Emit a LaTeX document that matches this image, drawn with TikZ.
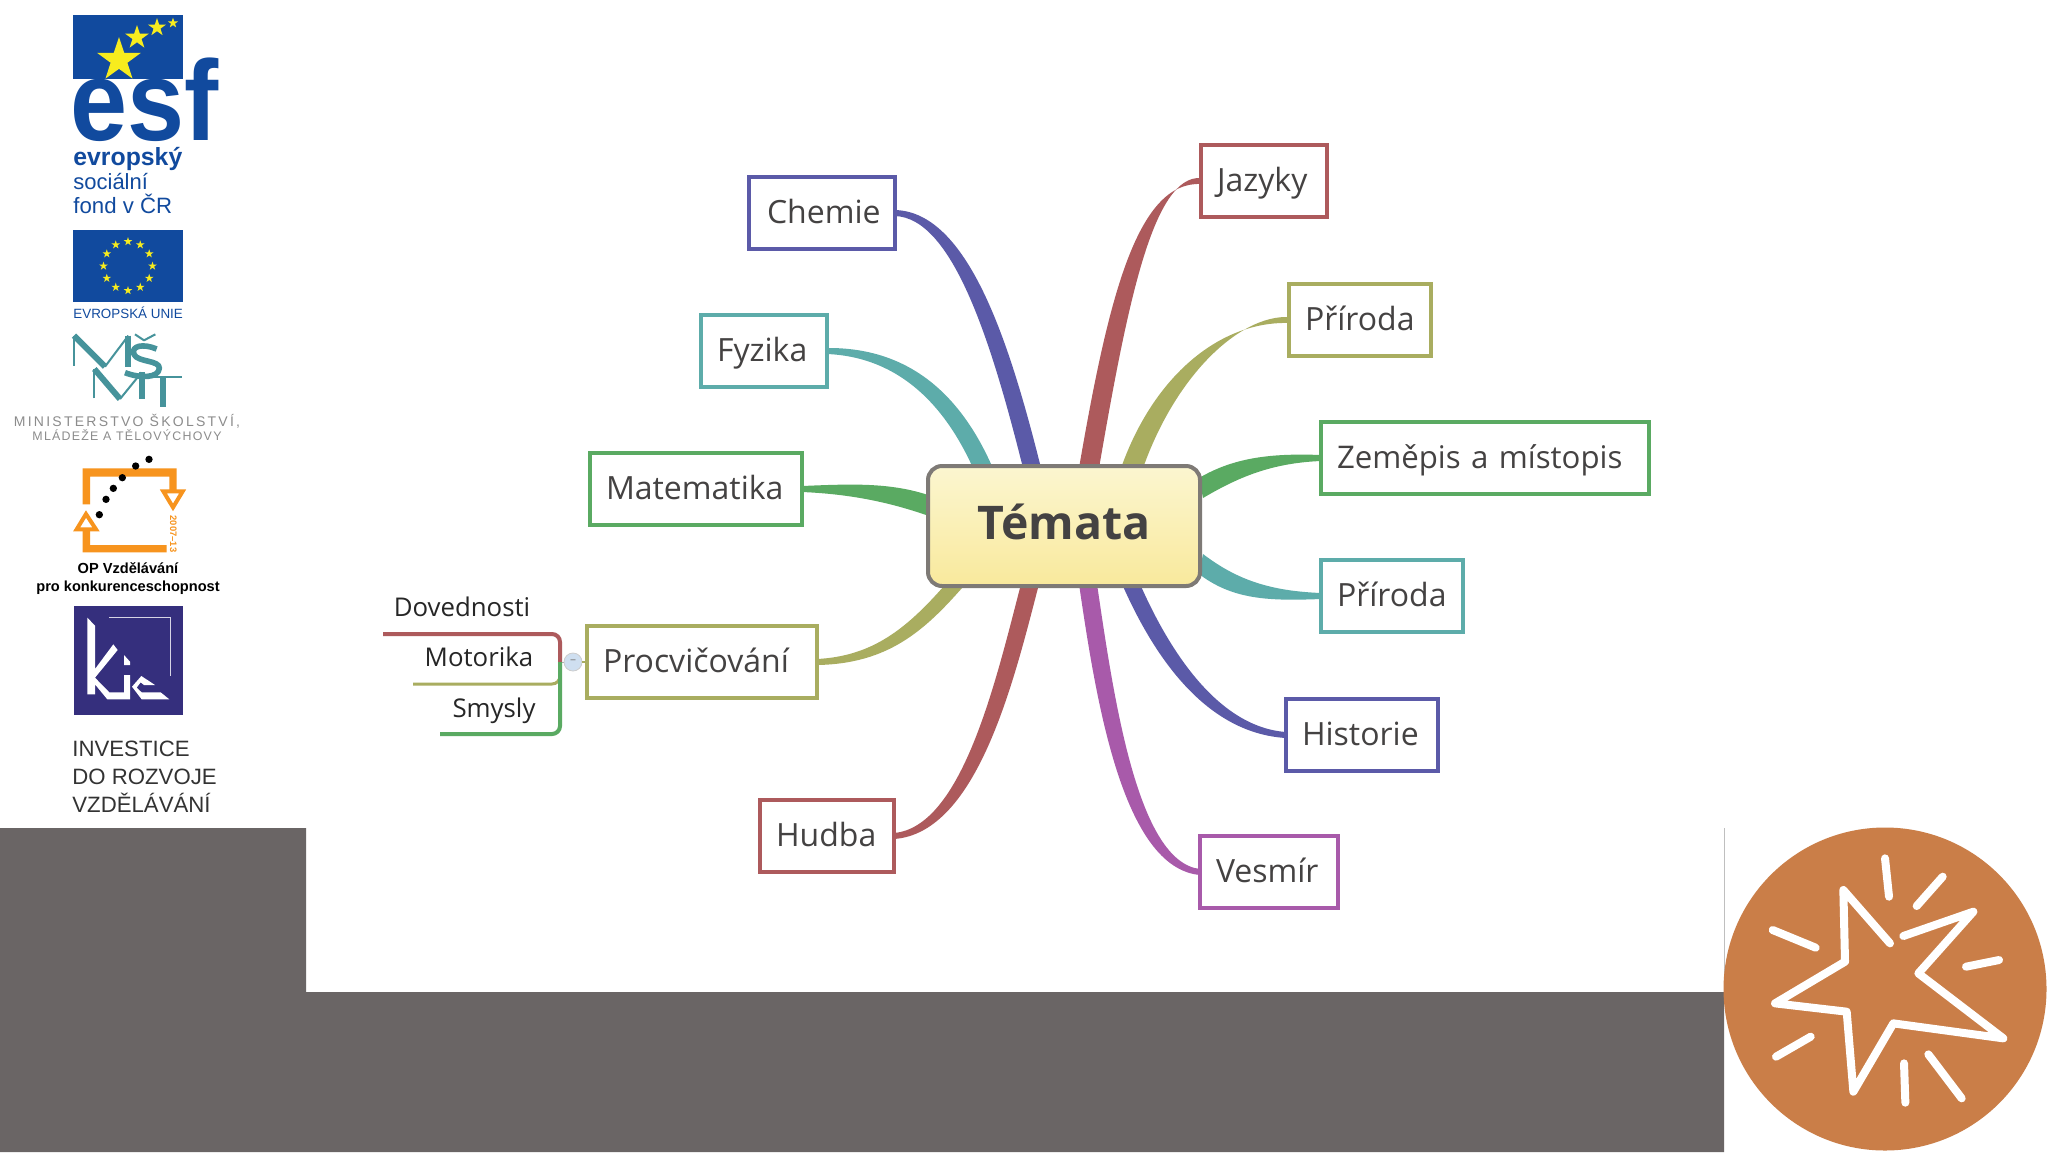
\documentclass[tikz,border=0pt]{standalone}
\usepackage{fontspec}
\usetikzlibrary{calc,shapes.geometric}
\setmainfont{Open Sans}
\newfontfamily\lib{Liberation Sans}
\newfontfamily\libA[LetterSpace=16]{Liberation Sans}
\newfontfamily\libB[LetterSpace=10]{Liberation Sans}
\pgfdeclarelayer{bg}
\pgfsetlayers{bg,main}
\definecolor{cblue}{HTML}{5B5AA8}
\definecolor{cteal}{HTML}{5DACAA}
\definecolor{cgreen}{HTML}{5AAA62}
\definecolor{colive}{HTML}{A9AD60}
\definecolor{cred}{HTML}{AD5A5C}
\definecolor{cviolet}{HTML}{A85AAA}
\definecolor{cgrey}{HTML}{6A6565}
\definecolor{ctext}{HTML}{444242}
\definecolor{esfblue}{HTML}{114A9E}
\definecolor{euyellow}{HTML}{F7EC1E}
\definecolor{msmt}{HTML}{46939B}
\definecolor{oporange}{HTML}{F7941E}
\definecolor{kic}{HTML}{352F7D}
\definecolor{badge}{HTML}{CA7E48}
\definecolor{ctop}{HTML}{FBF6D0}
\definecolor{cbot}{HTML}{F9E99C}
\definecolor{cborder}{HTML}{7E7A76}
\definecolor{cdot}{HTML}{CFDFF0}
\tikzset{
  topic/.style={draw=#1,line width=1.75pt,fill=white,minimum height=36pt,inner xsep=8pt,inner ysep=0pt,outer sep=0pt,align=left,text=ctext,text height=13.5pt,text depth=3pt,font=\fontsize{16}{18}\selectfont},
  sub/.style={text=black!85,inner sep=0pt,font=\fontsize{12.9}{14}\selectfont},
  ray/.style={white,line width=4pt,line cap=round,line join=round},
  twig/.style={line width=1.5pt,rounded corners=4pt},
  starA/.style={star,star points=5,star point ratio=2.6,fill=euyellow,inner sep=0pt,minimum size=#1},
  logotxt/.style={anchor=base west,inner sep=0pt},
  logomid/.style={anchor=base,inner sep=0pt},
}
\newcommand\branch[7][0.85]{\fill[#2] ($(#3)+(0,-3)$) .. controls ($(#4)+(0,-3)+#1*(#7)$) and ($(#5)+(#7)$) .. ($(#6)+(#7)$) -- ($(#6)-(#7)$) .. controls ($(#5)-(#7)$) and ($(#4)+(0,3)-#1*(#7)$) .. ($(#3)+(0,3)$) -- cycle;}
\begin{document}
\begin{tikzpicture}[x=0.5pt,y=-0.5pt]
\useasboundingbox (0,0) rectangle (2048,1152);
\begin{pgfonlayer}{bg}
\fill[white] (0,0) rectangle (2048,1152);
\end{pgfonlayer}
% grey bands
\fill[cgrey] (0,828) -- (306,828) -- (306,992) -- (1724,992) -- (1724,1152) -- (0,1152) -- cycle;
\draw[black!25,line width=0.5pt] (1724,828) -- (1724,992);
% badge
\fill[badge] (1885,989) circle (161.5);
\begin{scope}[shift={(1700,810)},x=0.16667pt,y=-0.16667pt]
\draw[ray] (570,400) -- (430,240) -- (435,455) -- (225,580) -- (440,605) -- (460,845) -- (580,640) -- (910,685) -- (655,490) -- (820,305) -- (610,378);
\draw[ray] (555,145) -- (567,260);
\draw[ray] (728,200) -- (650,288);
\draw[ray] (218,360) -- (347,413);
\draw[ray] (897,450) -- (798,470);
\draw[ray] (332,680) -- (228,740);
\draw[ray] (612,760) -- (616,878);
\draw[ray] (685,733) -- (785,865);
\end{scope}
% ESF logo
\fill[esfblue] (73,15) rectangle (183,79);
\node[starA=46*0.5pt] (s1) at (119,60) {};
\node[starA=25*0.5pt] (s2) at (137,37.5) {};
\node[starA=19*0.5pt] (s3) at (157,27.5) {};
\node[starA=11*0.5pt] (s4) at (173,23) {};
\node[logotxt,text=esfblue,xscale=0.9,text height=30pt,text depth=0pt,font=\lib\bfseries\fontsize{57}{60}\selectfont] (esf) at (70,140) {esf};
\node[logotxt,text=esfblue,font=\lib\bfseries\fontsize{12.4}{14}\selectfont] (t1) at (73,165) {evropský};
\node[logotxt,text=esfblue,font=\lib\fontsize{11}{13}\selectfont] (t2) at (73,189) {sociální};
\node[logotxt,text=esfblue,font=\lib\fontsize{11.1}{13}\selectfont] (t3) at (73,213) {fond v ČR};
% EU flag
\fill[esfblue] (73,230) rectangle (183,302);
\foreach \a in {0,30,...,330}{\node[starA=9*0.5pt] (eu\a) at ($(128,266)+(\a:24.5)$) {};}
\node[logotxt,text=esfblue,font=\lib\fontsize{6.7}{8}\selectfont] (t4) at (73,318) {EVROPSKÁ UNIE};
% MSMT logo
\begin{scope}[shift={(60,325)},x=0.16667pt,y=-0.16667pt]
\begin{scope}[msmt,line join=bevel]
\draw[line width=1pt] (42,122) -- (42,32);
\draw[line width=3pt] (42,32) -- (135,125);
\draw[line width=1pt] (135,125) -- (205,32);
\draw[line width=3pt] (205,32) -- (205,125);
\draw[line width=1pt] (225,28) -- (252,46) -- (286,28);
\draw[line width=2.8pt] (290,72) .. controls (250,55) and (212,62) .. (222,88) .. controls (232,112) and (300,105) .. (298,130) .. controls (295,160) and (240,160) .. (195,143);
\draw[line width=1pt] (103,220) -- (103,132);
\draw[line width=3pt] (103,132) -- (180,222);
\draw[line width=1pt] (180,222) -- (245,142);
\draw[line width=3pt] (245,142) -- (245,222);
\draw[line width=1pt] (230,157) -- (365,157);
\draw[line width=3pt] (310,157) -- (310,246);
\end{scope}
\end{scope}
\node[logomid,text=black!45,font=\libA\fontsize{7}{8}\selectfont] (t5) at (127,426) {MINISTERSTVO ŠKOLSTVÍ,};
\node[logomid,text=black!45,font=\libB\fontsize{6.2}{7}\selectfont] (t6) at (127,440) {MLÁDEŽE A TĚLOVÝCHOVY};
% OP logo
\begin{scope}[shift={(0,320)},x=0.16667pt,y=-0.16667pt]
\fill[oporange] (248,553) -- (248,445) -- (530,445) -- (530,512) -- (508,512) -- (508,470) -- (270,470) -- (270,553) -- cycle;
\fill[oporange] (248,630) -- (270,630) -- (270,675) -- (500,675) -- (500,697) -- (248,697) -- cycle;
\draw[oporange,line width=2pt,fill=white] (490,514) -- (548,514) -- (519,562) -- cycle;
\draw[oporange,line width=2pt,fill=white] (258,582) -- (230,628) -- (288,628) -- cycle;
\foreach \x/\y in {447/418,407/438,367/473,340/505,318/538,298/584}{\fill[black] (\x,\y) circle (11);}
\node[text=oporange,rotate=-90,inner sep=0pt,font=\lib\bfseries\fontsize{4.7}{5}\selectfont] (t7) at (520,642) {2007–13};
\end{scope}
\node[logomid,font=\lib\bfseries\fontsize{7.3}{8}\selectfont] (t8) at (128,573) {OP Vzdělávání};
\node[logomid,font=\lib\bfseries\fontsize{7.3}{8}\selectfont] (t9) at (128,591) {pro konkurenceschopnost};
% KIC logo
\begin{scope}[shift={(70,605)},x=0.16667pt,y=-0.16667pt]
\fill[kic] (13,3) rectangle (339,331);
\fill[white] (52,38) -- (75,62) -- (75,192) -- (130,118) -- (143,135) -- (75,218) -- (118,262) -- (162,262) -- (162,210) -- (180,210) -- (180,283) -- (112,283) -- (75,238) -- (75,268) -- (52,268) -- cycle;
\fill[white] (162,150) -- (180,170) -- (180,180) -- (162,180) -- cycle;
\fill[white] (186,245) -- (214,213) -- (255,240) -- (222,240) -- (212,232) -- (200,248) -- (215,262) -- (272,262) -- (298,283) -- (215,283) -- cycle;
\draw[white!80!kic,line width=0.4pt] (118,36) -- (302,36) -- (302,212);
\end{scope}
\node[logotxt,text=black!80,font=\lib\fontsize{11.1}{12}\selectfont] (t10) at (72,756) {INVESTICE};
\node[logotxt,text=black!80,font=\lib\fontsize{11.1}{12}\selectfont] (t11) at (72,784) {DO ROZVOJE};
\node[logotxt,text=black!80,font=\lib\fontsize{11.1}{12}\selectfont] (t12) at (72,812) {VZDĚLÁVÁNÍ};
% centre
\node[rounded corners=7pt,draw=cborder,line width=2pt,top color=ctop,bottom color=cbot,minimum width=136pt,minimum height=60pt,inner sep=0pt,outer sep=0pt,text=ctext,text depth=4pt,font=\bfseries\fontsize{23.2}{28}\selectfont] (temata) at (1064,526) {Témata};
% topics
\node[topic=cblue,text width=55pt,inner xsep=9pt,minimum width=73pt] (chemie) at (822,213) {\mbox{Chemie}};
\node[topic=cteal,text width=47pt,minimum width=63pt] (fyzika) at (764,351) {Fyzika};
\node[topic=cgreen,text width=90pt,minimum width=106pt] (matematika) at (696,489) {Matematika};
\node[topic=colive,text width=99pt,minimum width=115pt] (procvic) at (702,662) {Procvičování};
\node[topic=cred,text width=51pt,minimum width=67pt] (hudba) at (827,836) {Hudba};
\node[topic=cred,text width=47pt,minimum width=63pt] (jazyky) at (1264,181) {Jazyky};
\node[topic=colive,text width=55pt,minimum width=71pt] (priroda) at (1360,320) {Příroda};
\node[topic=cgreen,text width=148pt,minimum width=164pt,font=\fontsize{15.6}{18}\selectfont] (zemepis) at (1485,458) {Zeměpis a místopis};
\node[topic=cteal,text width=55pt,minimum width=71pt] (prirodab) at (1392,596) {Příroda};
\node[topic=cblue,text width=60pt,minimum width=76pt] (historie) at (1362,735) {Historie};
\node[topic=cviolet,text width=53pt,minimum width=69pt] (vesmir) at (1269,872) {Vesmír};
% branches
\begin{pgfonlayer}{bg}
\branch{cblue}{chemie.east}{960,215}{1000,340}{$(temata.north west)+(104,2)$}{9,0}
\branch{cteal}{fyzika.east}{900,352}{950,395}{$(temata.north west)+(54,0)$}{9,-2}
\branch[0.2]{cgreen}{matematika.east}{850,489}{890,492}{$(temata.north west)+(2,40)$}{1,-10}
\branch{colive}{procvic.east}{880,660}{915,630}{$(temata.south west)+(25,1)$}{-9,-1}
\branch{cred}{hudba.east}{970,830}{1005,680}{$(temata.south west)+(102,-2)$}{-9,0}
\branch{cred}{jazyky.west}{1145,178}{1118,300}{$(temata.north west)+(161,2)$}{10,0}
\branch{colive}{priroda.west}{1230,318}{1165,375}{$(temata.north west)+(204,2)$}{11,0}
\branch[0.2]{cgreen}{zemepis.west}{1270,458}{1235,468}{$(temata.north east)+(1,22)$}{-2,-10}
\branch[0.2]{cteal}{prirodab.west}{1270,596}{1235,590}{$(temata.south east)+(1,-22)$}{2,-10}
\branch{cblue}{historie.west}{1210,730}{1160,650}{$(temata.south west)+(203,-2)$}{9,0}
\branch{cviolet}{vesmir.west}{1130,865}{1105,700}{$(temata.south west)+(160,-2)$}{9,0}
\end{pgfonlayer}
% sub topics
\node[draw=black!20,fill=cdot,circle,line width=0.4pt,minimum size=9pt,inner sep=0pt,text=black!50,font=\fontsize{6}{6}\selectfont] (collapse) at (573,662) {–};
\draw[colive,line width=0.8pt] (collapse) -- (procvic.west);
\coordinate (fork) at (560,662);
\draw[black!30,line width=0.4pt] (collapse) -- (fork);
\coordinate (dend) at (383,634);
\coordinate (mend) at (413,684);
\coordinate (send) at (440,734);
\draw[twig,cred,line width=2pt] (fork) -- (560,634) -- (dend);
\draw[twig,colive] (fork) -- (560,684) -- (mend);
\draw[twig,cgreen,line width=2pt] (fork) -- (560,734) -- (send);
\node[sub] (dov) at (462,607) {Dovednosti};
\node[sub] (mot) at (479,657) {Motorika};
\node[sub] (smy) at (494,711) {Smysly};
\end{tikzpicture}
\end{document}
